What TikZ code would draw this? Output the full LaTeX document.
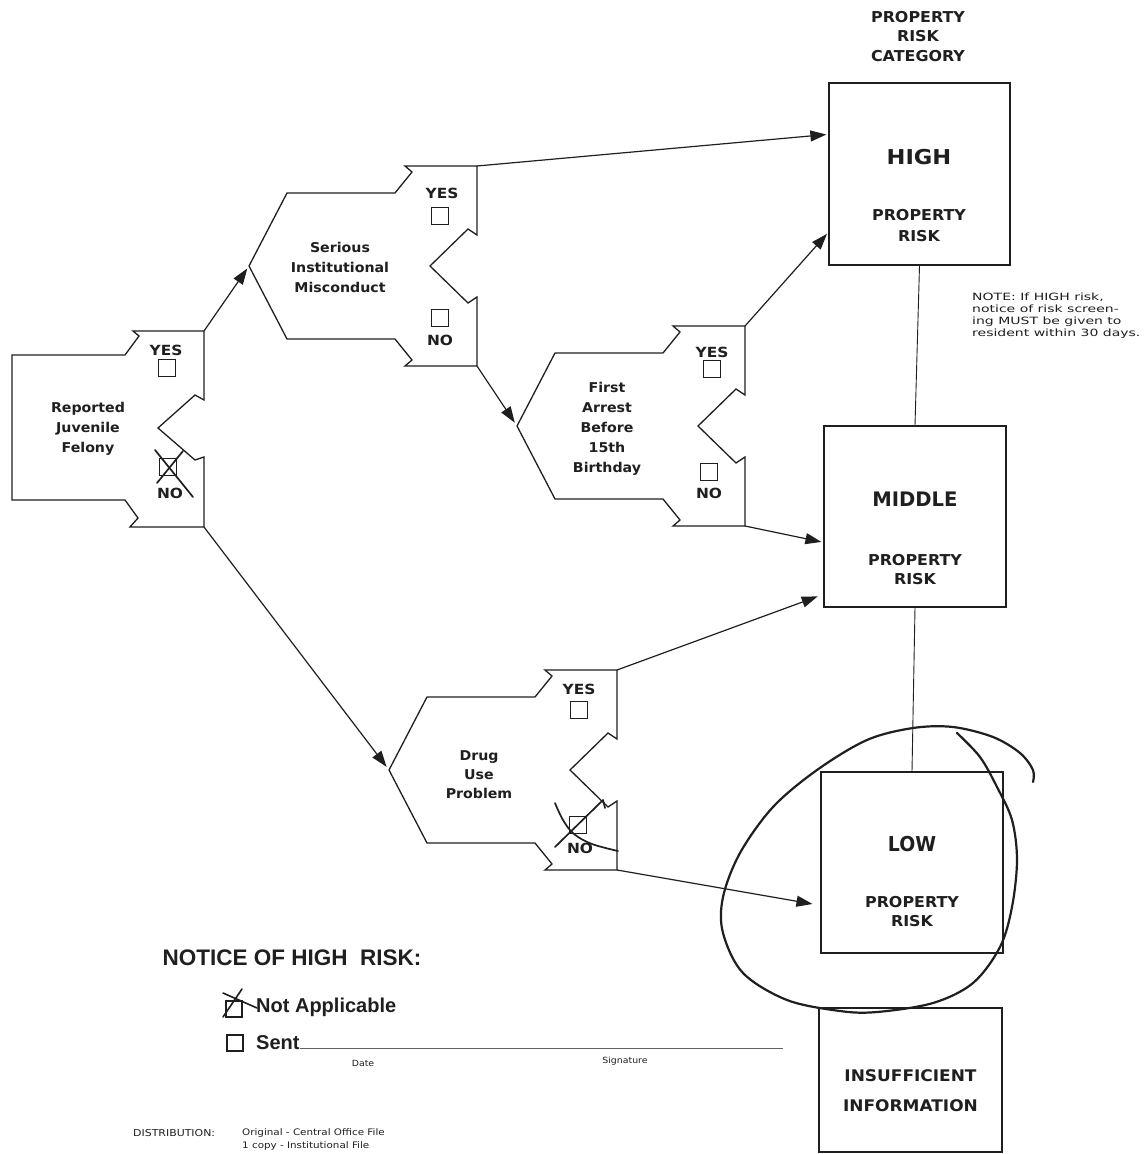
\documentclass[tikz,border=0pt]{standalone}
\usepackage{fontspec}
\setmainfont{DejaVu Sans}
\newfontfamily\helv{Liberation Sans}
\usetikzlibrary{arrows.meta}
\definecolor{ink}{gray}{0.12}
\newcommand\xw[2]{\scalebox{#1}[1]{#2}}
\newcommand\fs[2]{\fontsize{#1}{#2}\selectfont}
\newcommand\stackc[1]{\begin{tabular}{@{}c@{}}#1\end{tabular}}
\newcommand\stackl[1]{\begin{tabular}{@{}l@{}}#1\end{tabular}}
\newcommand\pzpiece[3]{%
  \begin{scope}[shift={(#2,#3)}]
    \draw[pzline] (0,-100) -- (-72,-100) -- (-65,-94) -- (-82,-73) -- (-190,-73) -- (-228,0)
      -- (-190,73) -- (-82,73) -- (-65,94) -- (-72,100) -- (0,100) -- (0,31) -- (-9,37)
      -- (-47,0) -- (-9,-37) -- (0,-31) -- cycle;
    \coordinate (#1-tr) at (0,-100);
    \coordinate (#1-br) at (0,100);
    \coordinate (#1-l) at (-228,0);
  \end{scope}}
\begin{document}
\begin{tikzpicture}[x=1pt,y=-1pt,
  pzline/.style={draw=ink,line width=1.3pt,line join=miter},
  pzarrow/.style={draw=ink,line width=1.2pt,-{Triangle[length=16pt,width=11pt]},shorten >=2pt},
  pzbox/.style={draw=ink,line width=1.3pt,inner sep=0pt},
  pzlink/.style={draw=ink,line width=0.9pt},
  pzlbl/.style={inner sep=0pt,text=ink},
  pzchk/.style={draw=ink,line width=1.2pt,minimum size=17pt,inner sep=0pt},
  pzmark/.style={draw=ink,line width=1.7pt,line cap=round,line join=round},
  yn/.style={pzlbl,font=\bfseries\fs{14}{16}},
  shapetxt/.style={pzlbl,font=\bfseries\fs{13.5}{20}},
]
\fill[white] (0,0) rectangle (1146,1154);
\useasboundingbox (0,0) rectangle (1146,1154);

% ---------- piece 1 (flat left side) ----------
\begin{scope}[shift={(204,429)}]
  \draw[pzline] (0,-98) -- (-71,-98) -- (-65,-93) -- (-79,-74) -- (-192,-74) -- (-192,71)
    -- (-79,71) -- (-66,89) -- (-74,98) -- (0,98) -- (0,28) -- (-9,31) -- (-46,-1)
    -- (-9,-34) -- (0,-29) -- cycle;
  \coordinate (p1-tr) at (0,-98);
  \coordinate (p1-br) at (0,98);
\end{scope}
\pzpiece{p2}{477}{266}
\pzpiece{p3}{745}{426}
\pzpiece{p4}{617}{770}

% ---------- texts in pieces ----------
\node[shapetxt] (t1) at (88,428.5) {\xw{1.05}{\stackc{Reported\\Juvenile\\Felony}}};
\node[shapetxt] (t2) at (340,268) {\xw{1.05}{\stackc{Serious\\Institutional\\Misconduct}}};
\node[shapetxt] (t3) at (607,428.5) {\xw{1.05}{\stackc{First\\Arrest\\Before\\15th\\Birthday}}};
\node[shapetxt,font=\bfseries\fs{13.5}{19}] (t4) at (479,776) {\xw{1.05}{\stackc{Drug\\Use\\Problem}}};

% ---------- YES / NO check boxes ----------
\node[yn] (y1) at (166,350) {\xw{1.1}{YES}};
\node[pzchk] (cy1) at (167,368) {};
\node[pzchk] (cn1) at (168,467) {};
\node[yn] (n1) at (170,493) {\xw{1.1}{NO}};

\node[yn] (y2) at (442,193) {\xw{1.1}{YES}};
\node[pzchk] (cy2) at (440,216) {};
\node[pzchk] (cn2) at (440,318) {};
\node[yn] (n2) at (440,340) {\xw{1.1}{NO}};

\node[yn] (y3) at (712,352) {\xw{1.1}{YES}};
\node[pzchk] (cy3) at (712,369) {};
\node[pzchk] (cn3) at (709,472) {};
\node[yn] (n3) at (709,493) {\xw{1.1}{NO}};

\node[yn] (y4) at (579,689) {\xw{1.1}{YES}};
\node[pzchk] (cy4) at (579,710) {};
\node[pzchk] (cn4) at (578,825) {};
\node[yn] (n4) at (580,848) {\xw{1.1}{NO}};

% ---------- risk boxes ----------
\node[pzlbl] (head) at (918,38) {\bfseries\fs{15}{19.5}\xw{1.06}{\stackc{PROPERTY\\RISK\\CATEGORY}}};
\node[pzbox,minimum width=181pt,minimum height=182pt] (high) at (919.5,174) {};
\node[pzbox,minimum width=182pt,minimum height=181pt] (middle) at (915,516.5) {};
\node[pzbox,minimum width=182pt,minimum height=181pt] (low) at (912,862.5) {};
\node[pzbox,minimum width=183pt,minimum height=144pt] (insuf) at (910.5,1080) {};

\node[pzlbl] (hightxt) at (919,157) {\bfseries\fs{20.5}{24}\xw{1.1}{HIGH}};
\node[pzlbl] (highsub) at (919,227) {\bfseries\fs{15}{21}\xw{1.06}{\stackc{PROPERTY\\RISK}}};
\node[pzlbl] (midtxt) at (915,499) {\bfseries\fs{20}{24}\xw{0.98}{MIDDLE}};
\node[pzlbl] (midsub) at (915,571) {\bfseries\fs{15}{19.5}\xw{1.06}{\stackc{PROPERTY\\RISK}}};
\node[pzlbl] (lowtxt) at (912,844) {\bfseries\fs{20.5}{24}\xw{0.92}{LOW}};
\node[pzlbl] (lowsub) at (912,913) {\bfseries\fs{15}{19.5}\xw{1.06}{\stackc{PROPERTY\\RISK}}};
\node[pzlbl] (insuftxt) at (910.5,1090) {\bfseries\fs{16}{30}\xw{1.06}{\stackc{INSUFFICIENT\\INFORMATION}}};

\node[pzlbl,anchor=west] (note) at (972,316) {\fs{10}{12.2}\xw{1.4}{\stackl{NOTE: If HIGH risk,\\notice of risk screen-\\ing MUST be given to\\resident within 30 days.}}};

\draw[pzlink] (high.south) -- (middle.north);
\draw[pzlink] (middle.south) -- (low.north);

% ---------- connectors ----------
\draw[pzarrow,shorten >=3pt] (p1-tr) -- (p2-l);
\draw[pzarrow,shorten >=4pt] (p1-br) -- (p4-l);
\draw[pzarrow] (p2-tr) -- ([yshift=-52pt]high.north west);
\draw[pzarrow,shorten >=4pt] (p2-br) -- (p3-l);
\draw[pzarrow] (p3-tr) -- ([yshift=-150pt]high.north west);
\draw[pzarrow] (p3-br) -- ([yshift=-117pt]middle.north west);
\draw[pzarrow,shorten >=6pt] (p4-tr) -- ([yshift=-169pt]middle.north west);
\draw[pzarrow,shorten >=8pt] (p4-br) -- ([yshift=-134pt]low.north west);

% ---------- hand marks ----------
\draw[pzmark] (155,450) -- (193,497);
\draw[pzmark] (183,451) -- (157,483);
\draw[pzmark] plot[smooth,tension=0.6] coordinates {(555,803) (563,820) (574,834) (592,844) (618,851)};
\draw[pzmark] (555,847) -- (603,800) -- (605,808);
\draw[pzmark,line width=2.2pt] plot[smooth,tension=0.55] coordinates {
 (957,733) (980,757) (997,787) (1012,820) (1017,860) (1012,907) (1000,947) (973,983)
 (933,1003) (877,1012) (840,1011) (787,1000) (743,973) (723,933) (723,897) (740,853)
 (773,807) (817,770) (867,740) (913,728) (953,727) (993,737) (1020,753) (1033,770) (1033,782)};

% ---------- notice section ----------
\node[pzlbl] (notice) at (292,958) {\helv\bfseries\fs{22.5}{26}NOTICE OF HIGH\ \ RISK:};
\node[pzchk,minimum size=16pt] (cna) at (234,1009) {};
\node[pzlbl,anchor=west] (na) at (256,1007) {\helv\bfseries\fs{20}{24}Not Applicable};
\draw[pzmark,line width=1.6pt] (242,989) -- (223,1017);
\draw[pzmark,line width=1.6pt] (223,993) -- (257,1008);
\node[pzchk,minimum size=16pt] (csent) at (235,1043) {};
\node[pzlbl,anchor=west] (sent) at (256,1043) {\helv\bfseries\fs{20}{24}Sent};
\coordinate (sigend) at (783,1048);
\draw[draw=ink!70,line width=0.7pt] (sent.east |- sigend) -- (sigend);
\node[pzlbl] (date) at (363,1063) {\fs{8.5}{10}\xw{1.1}{Date}};
\node[pzlbl] (sig) at (625,1061) {\fs{8.5}{10}\xw{1.1}{Signature}};
\node[pzlbl,anchor=west] (dist) at (133,1133) {\fs{9.5}{11}\xw{1.15}{DISTRIBUTION:}};
\node[pzlbl,anchor=west] (dist1) at (242,1133) {\fs{9}{11}\xw{1.15}{Original - Central Office File}};
\node[pzlbl,anchor=west] (dist2) at (242,1146) {\fs{9}{11}\xw{1.15}{1 copy - Institutional File}};
\end{tikzpicture}
\end{document}
